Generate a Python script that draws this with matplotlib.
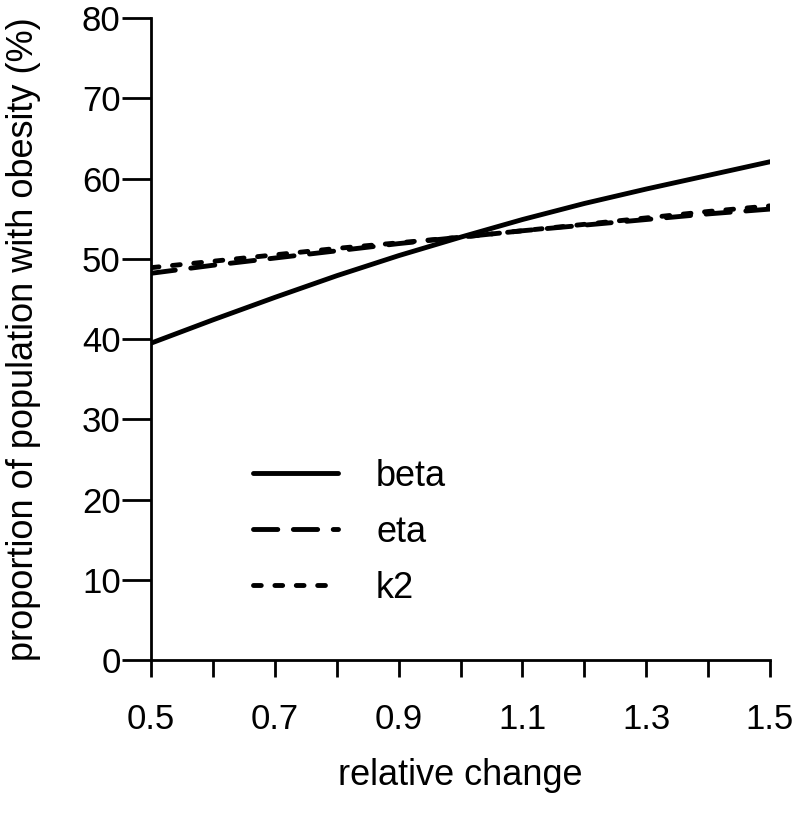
import matplotlib.pyplot as plt
from matplotlib.ticker import MultipleLocator

plt.rcParams["font.family"] = ["Liberation Sans", "DejaVu Sans"]

rel_change = [0.5, 0.6, 0.7, 0.8, 0.9, 1.0, 1.1, 1.2, 1.3, 1.4, 1.5]
beta = [39.5, 42.4, 45.2, 47.9, 50.4, 52.7, 54.9, 56.9, 58.7, 60.4, 62.1]
eta = [48.2, 49.2, 50.1, 51.0, 51.9, 52.7, 53.5, 54.2, 54.9, 55.6, 56.2]
k2 = [48.9, 49.7, 50.5, 51.3, 52.0, 52.7, 53.5, 54.3, 55.1, 55.9, 56.6]


def main():
    fig = plt.figure(figsize=(8.0, 8.24), dpi=100)
    ax = fig.add_axes([0.189, 0.199, 0.7735, 0.779])

    lw = 3.5
    ax.plot(rel_change, beta, color="black", lw=lw, label="beta",
            solid_capstyle="round")
    ax.plot(rel_change, eta, color="black", lw=lw, label="eta",
            dashes=(5, 3.2), dash_capstyle="round")
    ax.plot(rel_change, k2, color="black", lw=lw, label="k2",
            dashes=(1.6, 2.8), dash_capstyle="round")

    ax.set_xlim(0.5, 1.5)
    ax.set_ylim(0, 80)
    ax.xaxis.set_minor_locator(MultipleLocator(0.1))
    ax.yaxis.set_major_locator(MultipleLocator(10))
    ax.set_xticks([0.5, 0.7, 0.9, 1.1, 1.3, 1.5])
    ax.set_xticklabels(["0.5", "0.7", "0.9", "1.1", "1.3", "1.5"])

    for side in ("top", "right"):
        ax.spines[side].set_visible(False)
    for side in ("left", "bottom"):
        ax.spines[side].set_linewidth(2.0)

    ax.tick_params(axis="x", which="both", direction="out", length=12,
                   width=2.0, labelsize=25, pad=19)
    ax.tick_params(axis="y", which="major", direction="out", length=21,
                   width=2.0, labelsize=25, pad=1)

    ax.set_xlabel("relative change", fontsize=26)
    ax.set_ylabel("proportion of population with obesity (%)", fontsize=26)
    ax.xaxis.set_label_coords(0.5, -0.153)
    ax.yaxis.set_label_coords(-0.178, 0.5)

    ax.legend(loc="upper left", bbox_to_anchor=(0.165, 0.313), frameon=False,
              fontsize=26, handlelength=2.35, handletextpad=1.05,
              labelspacing=0.58, borderpad=0, borderaxespad=0)

    fig.savefig("out.png", dpi=100)


if __name__ == "__main__":
    main()
